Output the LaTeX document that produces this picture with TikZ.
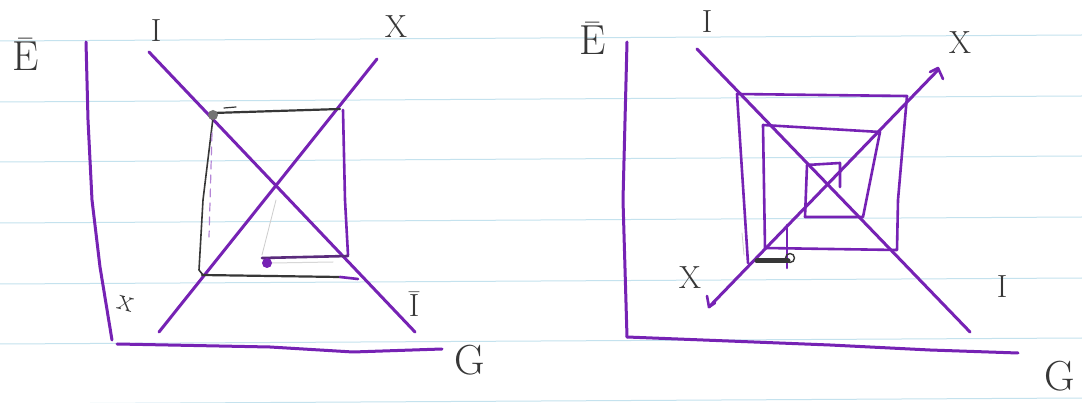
\documentclass[tikz,border=0pt]{standalone}
\usepackage{amsmath}
\usepackage{tikz}

\definecolor{pen}{RGB}{118,34,180}
\definecolor{pencil}{RGB}{55,55,55}
\definecolor{rule}{RGB}{196,226,238}

\begin{document}
\begin{tikzpicture}[x=1pt,y=-1pt,line cap=round,line join=round,
    lbl/.style={text=pencil,font=\fontsize{32}{32}\selectfont,inner sep=0pt},
    biglbl/.style={lbl,font=\fontsize{42}{42}\selectfont},
    curve/.style={pen,line width=3pt},
    web/.style={pen,line width=2.6pt},
    lead/.style={pencil,line width=2.2pt}]
        \useasboundingbox (0,0) rectangle (1082,403);
        \fill[white] (0,0) rectangle (1082,403);
        % ruled paper
        \foreach \y in {41,102,162,223,284,344,404}
            \draw[rule,line width=1pt] (0,\y)--(1082,\y-6);

        % left picture
        \draw[curve] (86,42)--(88,120)--(92,200)--(100,267)--(112,340);
        \draw[curve] (117,344)--(270,347)--(353,352)--(442,349);
        \node[biglbl] (el) at (26,54) {Ē};
        \node[biglbl] (gl) at (470,360) {G};
        \node[lbl] (il) at (156,31) {I};
        \node[lbl] (xl) at (396,27) {X};
        \node[lbl] (ibl) at (414,304) {Ī};
        \node[lbl,rotate=-15] (xsl) at (126,304) {x};
        \draw[curve] (149,52)--(415,332);
        \draw[curve] (159,332)--(377,59);
        \draw[lead] (213,113)--(340,109);
        \draw[pencil,line width=1.2pt] (224,108)--(236,107);
        \draw[lead,line width=1.6pt] (213,118)--(203,200)--(199,270)--(203,275);
        \draw[pen!55,line width=1.2pt,dash pattern=on 8pt off 6pt] (212,133)--(209,237);
        \draw[web] (343,110)--(345,200)--(348,255);
        \draw[web,pen!55!pencil] (262,258)--(348,256);
        \draw[pencil!20,line width=1pt] (272,263)--(333,262);
        \draw[lead] (202,275)--(340,277);
        \draw[web] (340,277)--(358,279);
        \draw[pencil!25,line width=0.8pt] (276,200)--(262,255);
        \fill[pencil!70] (213,115) circle (5pt);
        \fill[pen] (267,263) circle (5pt);

        % right picture
        \draw[curve] (627,42)--(623,200)--(627,337);
        \draw[curve] (627,337)--(830,345)--(930,350)--(1018,353);
        \node[biglbl] (er) at (593,38) {Ē};
        \node[biglbl] (gr) at (1060,376) {G};
        \node[lbl] (ir) at (707,22) {I};
        \node[lbl] (xr) at (960,43) {X};
        \node[lbl] (xbr) at (690,278) {X};
        \node[lbl] (ibr) at (1002,287) {I};
        \draw[curve] (697,49)--(970,332);
        \draw[curve] (709,307)--(938,70);
        \draw[web] (943,79)--(938,68)--(930,72);
        \draw[web] (707,296)--(709,307)--(715,303);
        \draw[web] (748,263)--(737,94)--(907,96)--(898,200)--(897,250)--(765,248)
            --(763,125)--(880,132)--(863,217)--(805,217)--(807,165)--(840,163)--(840,187);
        \draw[web] (787,225)--(787,268);
        \draw[lead,line width=5pt] (757,261)--(788,261);
        \draw[pencil,line width=1.4pt] (790,258) circle (4.5pt);
        \draw[pencil!25,line width=0.8pt] (742,233)--(744,255);
\end{tikzpicture}
\end{document}
